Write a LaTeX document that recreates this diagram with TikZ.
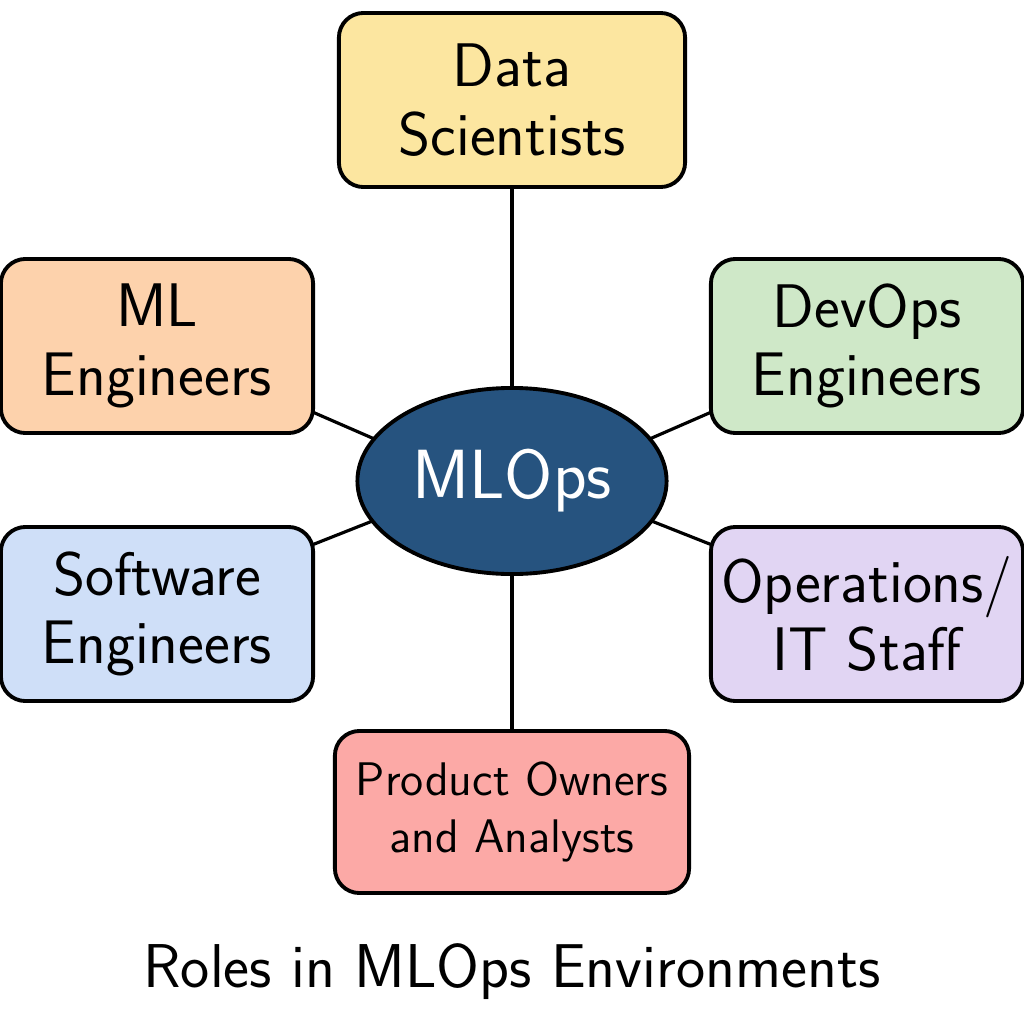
\documentclass[tikz,border=0pt]{standalone}
\usepackage{fontspec}
\usetikzlibrary{shapes.geometric}
\definecolor{cyellow}{HTML}{FCE6A0}
\definecolor{cpeach}{HTML}{FDD2AC}
\definecolor{cgreen}{HTML}{CFE8C8}
\definecolor{cblue}{HTML}{CFDFF8}
\definecolor{clav}{HTML}{E1D5F3}
\definecolor{csalmon}{HTML}{FCA9A6}
\definecolor{cnavy}{HTML}{26537F}
\begin{document}
\begin{tikzpicture}[x=0.01cm,y=-0.01cm,
  rolebox/.style={draw=black, line width=1.1pt, rounded corners=7pt, align=center,
    inner sep=0pt, outer sep=0pt, minimum width=3.12cm, minimum height=1.74cm,
    font=\sffamily\fontsize{17.5}{19.5}\selectfont},
  link/.style={line width=0.9pt, draw=black}]
\useasboundingbox (0,0) rectangle (1024,1024);
\node[ellipse, draw=black, line width=1.1pt, fill=cnavy, text=white,
  minimum width=3.09cm, minimum height=1.86cm, inner sep=0pt, outer sep=0pt,
  font=\sffamily\fontsize{19.8}{21}\selectfont] (mlops) at (512,481) {MLOps};
\node[rolebox, fill=cyellow, minimum width=3.46cm] (ds) at (512,100) {Data\\Scientists};
\node[rolebox, fill=cpeach] (ml) at (157,346) {ML\\Engineers};
\node[rolebox, fill=cgreen] (dev) at (867,346) {DevOps\\Engineers};
\node[rolebox, fill=cblue] (sw) at (157,614) {Software\\Engineers};
\node[rolebox, fill=clav] (ops) at (867,614) {Operations/\\IT Staff};
\node[rolebox, fill=csalmon, minimum width=3.54cm, minimum height=1.62cm,
  font=\sffamily\fontsize{13.4}{16}\selectfont] (po) at (512,812) {Product Owners\\and Analysts};
\node[font=\sffamily\fontsize{17.6}{20}\selectfont] (title) at (512,972) {Roles in MLOps Environments};
\draw[link] (ds.south) -- (mlops.north);
\draw[link] (mlops.south) -- (po.north);
\draw[link] (ml.-23) -- (mlops.163);
\draw[link] (sw.24) -- (mlops.196);
\draw[link] (dev.203) -- (mlops.17);
\draw[link] (ops.156) -- (mlops.-16);
\end{tikzpicture}
\end{document}
